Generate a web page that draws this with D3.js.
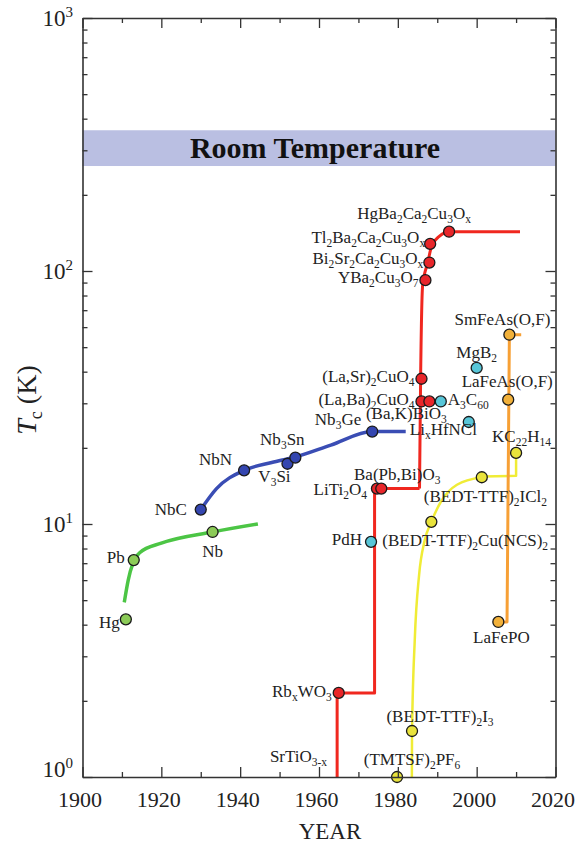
<!DOCTYPE html>
<html>
<head>
<meta charset="utf-8">
<script src="https://cdn.jsdelivr.net/npm/d3@7"></script>
<style>
body { margin: 0; background: #fff; }
svg text { font-family: 'Liberation Serif', 'Times New Roman', 'DejaVu Serif', serif; fill: #222; }
</style>
</head>
<body>
<svg id="chart" width="579" height="843"></svg>
<script>
// marker data, one set of arrays per family
var greenNames = ['Hg', 'Pb', 'Nb']
var greenYears = [1911, 1913, 1933]
var greenTc = [4.2, 7.2, 9.3]

var blueNames = ['NbC', 'NbN', 'V_3Si', 'Nb_3Sn', 'Nb_3Ge']
var blueYears = [1930, 1941, 1952, 1954, 1973.5]
var blueTc = [11.4, 16.3, 17.3, 18.3, 23.2]

var redNames = ['Rb_xWO_3', 'LiTi_2O_4', 'Ba(Pb,Bi)O_3', '(La,Sr)_2CuO_4', '(La,Ba)_2CuO_4',
    '(Ba,K)BiO_3', 'YBa_2Cu_3O_7', 'Bi_2Sr_2Ca_2Cu_3O_x', 'Tl_2Ba_2Ca_2Cu_3O_x', 'HgBa_2Ca_2Cu_3O_x']
var redYears = [1965, 1974.7, 1975.8, 1986, 1986, 1988, 1987, 1988, 1988.2, 1993]
var redTc = [2.15, 13.8, 13.8, 37.5, 30.5, 30.5, 92, 108, 128, 143]

var cyanNames = ['PdH', 'A_3C_{60}', 'Li_xHfNCl', 'MgB_2']
var cyanYears = [1973.2, 1990.9, 1998, 2000]
var cyanTc = [8.5, 30.5, 25.3, 41.4]

var yellowNames = ['(TMTSF)_2PF_6', '(BEDT-TTF)_2I_3', '(BEDT-TTF)_2Cu(NCS)_2', '(BEDT-TTF)_2ICl_2', 'KC_{22}H_{14}']
var yellowYears = [1979.8, 1983.6, 1988.5, 2001.3, 2010]
var yellowTc = [1.0, 1.52, 10.2, 15.3, 19.1]

var orangeNames = ['LaFePO', 'LaFeAs(O,F)', 'SmFeAs(O,F)']
var orangeYears = [2005.5, 2008, 2008.3]
var orangeTc = [4.1, 31, 56]

// label with no marker (Tc below the axis)
var noteNames = ['SrTiO_{3-x}']
var noteYears = [1964.6]
var noteTc = [1.146]

// guide lines
var greenLineYears = [1910.6, 1911.6, 1912.8, 1914.5, 1920, 1933, 1944.5]
var greenLineTc = [4.9, 6.0, 7.0, 7.7, 8.4, 9.3, 10.0]
var blueLineYears = [1930, 1934, 1941, 1948, 1954, 1963, 1973.5, 1982]
var blueLineTc = [11.4, 13.8, 16.3, 17.5, 18.4, 20.5, 23.2, 23.2]
var redStepYears = [1964.6, 1964.6, 1974.1, 1974.1, 1985.5]
var redStepTc = [0.5, 2.15, 2.15, 13.8, 13.8]
var redTopYears = [1985.5, 1985.8, 1986.3, 1987.6, 1988.6, 1990.5, 1993, 2011]
var redTopTc = [13.8, 40, 88, 108, 126, 137, 143, 143]
var yellowCurveYears = [1983.5, 1983.6, 1984.3, 1985.4, 1986.8, 1988.5, 1991, 1995, 2001.3]
var yellowCurveTc = [0.5, 1.5, 3.5, 6.3, 8.6, 10.2, 12.3, 14.3, 15.3]
var yellowStepYears = [2001.3, 2010, 2010]
var yellowStepTc = [15.4, 15.5, 19.1]
var orangeLineYears = [2005.5, 2007.7, 2008.3, 2011.3]
var orangeLineTc = [4.1, 4.1, 56, 56]

var roomLow = 260, roomHigh = 360
var xMajor = [1900, 1920, 1940, 1960, 1980, 2000, 2020]
var xMinor = [1910, 1930, 1950, 1970, 1990, 2010]
var yMajor = [1, 10, 100, 1000]

// label placement: dx, dy, anchor
var placement = {
    'Hg': [-6, 9, 'end'], 'Pb': [-9, 3, 'end'], 'Nb': [0, 25, 'middle'],
    'NbC': [-14, 5, 'end'], 'NbN': [-12, -5, 'end'], 'V_3Si': [-13, 18, 'middle'],
    'Nb_3Sn': [-13, -13, 'middle'], 'Nb_3Ge': [-11, -7, 'end'],
    'Rb_xWO_3': [-7, 4, 'end'], 'LiTi_2O_4': [-10, 6, 'end'], 'Ba(Pb,Bi)O_3': [16, -9, 'middle'],
    '(La,Sr)_2CuO_4': [-7, 3, 'end'], '(La,Ba)_2CuO_4': [-7, 4, 'end'], '(Ba,K)BiO_3': [-23, 18, 'middle'],
    'YBa_2Cu_3O_7': [-7, 3, 'end'], 'Bi_2Sr_2Ca_2Cu_3O_x': [-6, 1, 'end'],
    'Tl_2Ba_2Ca_2Cu_3O_x': [-5, -1, 'end'], 'HgBa_2Ca_2Cu_3O_x': [-35, -13, 'middle'],
    'PdH': [-9, 3, 'end'], 'A_3C_{60}': [7, 4, 'start'], 'Li_xHfNCl': [-59, 13, 'start'],
    'MgB_2': [0, -10, 'middle'],
    '(TMTSF)_2PF_6': [15, -12, 'middle'], '(BEDT-TTF)_2I_3': [28, -9, 'middle'],
    '(BEDT-TTF)_2Cu(NCS)_2': [-49, 24, 'start'], '(BEDT-TTF)_2ICl_2': [-58, 25, 'start'],
    'KC_{22}H_{14}': [-24, -11, 'start'],
    'LaFePO': [3, 21, 'middle'], 'LaFeAs(O,F)': [-1, -13, 'middle'], 'SmFeAs(O,F)': [-7, -10, 'middle'],
    'SrTiO_{3-x}': [-10, 0, 'end']
}

var svg = d3.select('#chart')
var x = d3.scaleLinear().domain([1900, 2020]).range([82.5, 555.5])
var y = d3.scaleLog().domain([1, 1000]).range([777, 18])

svg.append('defs').append('clipPath').attr('id', 'plot')
    .append('rect')
    .attr('x', x(1900)).attr('y', y(1000))
    .attr('width', x(2020) - x(1900)).attr('height', y(1) - y(1000))

// room temperature band
svg.append('rect')
    .attr('x', x(1900)).attr('width', x(2020) - x(1900))
    .attr('y', y(roomHigh)).attr('height', y(roomLow) - y(roomHigh))
    .attr('fill', '#babfe2')
svg.append('text')
    .attr('x', x(1959)).attr('y', (y(roomHigh) + y(roomLow)) / 2 + 10)
    .attr('text-anchor', 'middle')
    .style('font-size', '30px').style('font-weight', 'bold').style('fill', '#111')
    .text('Room Temperature')

function drawLine(years, tc, color, width, curve) {
    var line = d3.line()
        .x(function (d) { return x(d[0]) })
        .y(function (d) { return y(d[1]) })
        .curve(curve)
    svg.append('path')
        .datum(d3.zip(years, tc))
        .attr('clip-path', 'url(#plot)')
        .attr('d', line)
        .attr('fill', 'none')
        .attr('stroke', color)
        .attr('stroke-width', width)
        .attr('stroke-linejoin', 'round')
}

drawLine(greenLineYears, greenLineTc, '#4cc545', 3.5, d3.curveMonotoneX)
drawLine(blueLineYears, blueLineTc, '#3a4db4', 3.5, d3.curveMonotoneX)
drawLine(redStepYears, redStepTc, '#f0271f', 3, d3.curveLinear)
drawLine(redTopYears, redTopTc, '#f0271f', 3, d3.curveMonotoneX)
drawLine(yellowCurveYears, yellowCurveTc, '#f0ec36', 2.5, d3.curveMonotoneX)
drawLine(yellowStepYears, yellowStepTc, '#f0ec36', 2.5, d3.curveLinear)
drawLine(orangeLineYears, orangeLineTc, '#f7a035', 3, d3.curveLinear)

function richText(sel, str) {
    var parts = str.split(/(_\{[^}]*\}|_.)/)
    var shifted = false
    parts.forEach(function (p) {
        if (!p) return
        if (p[0] == '_') {
            var s = p[1] == '{' ? p.slice(2, -1) : p.slice(1)
            sel.append('tspan').attr('dy', shifted ? 0 : 4).style('font-size', '11.5px').text(s)
            shifted = true
        } else {
            sel.append('tspan').attr('dy', shifted ? -4 : 0).text(p)
            shifted = false
        }
    })
}

function drawFamily(names, years, tc, fill, withMarker) {
    var data = names.map(function (n, i) { return {name: n, year: years[i], tc: tc[i]} })
    if (withMarker) {
        svg.append('g').selectAll('circle')
            .data(data)
            .enter()
            .append('circle')
            .attr('cx', function (d) { return x(d.year) })
            .attr('cy', function (d) { return y(d.tc) })
            .attr('r', 5.5)
            .attr('fill', fill)
            .attr('stroke', '#1a1a1a')
            .attr('stroke-width', 1.3)
    }
    data.forEach(function (d) {
        var p = placement[d.name]
        var t = svg.append('text')
            .attr('x', x(d.year) + p[0])
            .attr('y', y(d.tc) + p[1])
            .attr('text-anchor', p[2])
            .style('font-size', '17px')
        richText(t, d.name)
    })
}

drawFamily(greenNames, greenYears, greenTc, '#8ccb58', true)
drawFamily(blueNames, blueYears, blueTc, '#3446b0', true)
drawFamily(redNames, redYears, redTc, '#e8262a', true)
drawFamily(cyanNames, cyanYears, cyanTc, '#58c6d8', true)
drawFamily(yellowNames, yellowYears, yellowTc, '#e9e33c', true)
drawFamily(orangeNames, orangeYears, orangeTc, '#f2b13a', true)
drawFamily(noteNames, noteYears, noteTc, null, false)

// axes, ticks pointing inward
var yMinor = []
yMajor.slice(0, 3).forEach(function (d) {
    for (var k = 2; k < 10; k++) yMinor.push(d * k)
})

function styleAxis(g, keepDomain) {
    g.selectAll('line').attr('stroke', '#333').attr('stroke-width', 1.3)
    if (keepDomain) g.select('.domain').attr('stroke', '#333').attr('stroke-width', 1.6)
    else g.select('.domain').remove()
}

var bottom = svg.append('g').attr('transform', 'translate(0,' + y(1) + ')')
    .call(d3.axisBottom(x).tickValues(xMajor).tickSizeInner(-10).tickSizeOuter(0).tickFormat(d3.format('d')))
styleAxis(bottom, true)
bottom.selectAll('text').attr('y', 30).attr('dy', 0).attr('dx', -3)
    .style('font-size', '22px').style('fill', '#222')
    .style('font-family', "'Liberation Serif', 'Times New Roman', serif")
styleAxis(svg.append('g').attr('transform', 'translate(0,' + y(1) + ')')
    .call(d3.axisBottom(x).tickValues(xMinor).tickSizeInner(-5).tickSizeOuter(0).tickFormat('')), false)

styleAxis(svg.append('g').attr('transform', 'translate(0,' + y(1000) + ')')
    .call(d3.axisTop(x).tickValues(xMajor).tickSizeInner(-10).tickSizeOuter(0).tickFormat('')), true)
styleAxis(svg.append('g').attr('transform', 'translate(0,' + y(1000) + ')')
    .call(d3.axisTop(x).tickValues(xMinor).tickSizeInner(-5).tickSizeOuter(0).tickFormat('')), false)

styleAxis(svg.append('g').attr('transform', 'translate(' + x(1900) + ',0)')
    .call(d3.axisLeft(y).tickValues(yMajor).tickSizeInner(-10).tickSizeOuter(0).tickFormat('')), true)
styleAxis(svg.append('g').attr('transform', 'translate(' + x(1900) + ',0)')
    .call(d3.axisLeft(y).tickValues(yMinor).tickSizeInner(-5).tickSizeOuter(0).tickFormat('')), false)

styleAxis(svg.append('g').attr('transform', 'translate(' + x(2020) + ',0)')
    .call(d3.axisRight(y).tickValues(yMajor).tickSizeInner(-10).tickSizeOuter(0).tickFormat('')), true)
styleAxis(svg.append('g').attr('transform', 'translate(' + x(2020) + ',0)')
    .call(d3.axisRight(y).tickValues(yMinor).tickSizeInner(-5).tickSizeOuter(0).tickFormat('')), false)

// y tick labels as 10^n
yMajor.forEach(function (v, i) {
    var t = svg.append('text')
        .attr('x', 73)
        .attr('y', y(v) + (v == 1 ? 0 : 8))
        .attr('text-anchor', 'end')
        .style('font-size', '23px')
    t.append('tspan').text('10')
    t.append('tspan').attr('dy', -9).style('font-size', '15px').text(Math.log10(v))
})

var yTitle = svg.append('text')
    .attr('transform', 'translate(36,400) rotate(-90)')
    .attr('text-anchor', 'middle')
    .style('font-size', '28px')
yTitle.append('tspan').style('font-style', 'italic').text('T')
yTitle.append('tspan').attr('dy', 6).style('font-size', '18px').text('c')
yTitle.append('tspan').attr('dy', -6).text(' (K)')

svg.append('text')
    .attr('x', 330).attr('y', 839)
    .attr('text-anchor', 'middle')
    .style('font-size', '23px')
    .text('YEAR')
</script>
</body>
</html>
